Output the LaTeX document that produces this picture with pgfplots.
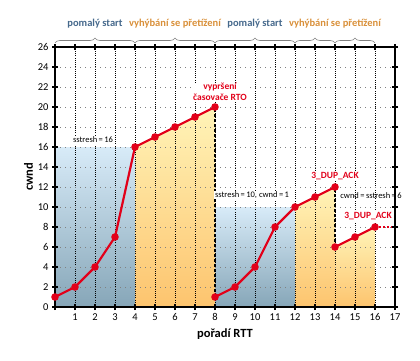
\documentclass[border=0pt]{standalone}
\usepackage{fontspec}
\setmainfont{Carlito}
\usepackage{pgfplots}
\pgfplotsset{compat=1.18}
\usetikzlibrary{decorations.pathreplacing}
\definecolor{cred}{HTML}{E2001A}
\definecolor{btop}{HTML}{D8EBF8}
\definecolor{bbot}{HTML}{86A6B8}
\definecolor{ytop}{HTML}{FFF4B8}
\definecolor{ybot}{HTML}{FDC46E}
\definecolor{cblue}{HTML}{46698C}
\definecolor{corange}{HTML}{D9903A}
\tikzset{lbl/.style={fill=white, inner sep=0.6pt}}
\begin{document}
\begin{tikzpicture}
\begin{axis}[name=ax, set layers, scale only axis, width=340pt, height=260pt,
  xmin=0, xmax=17, ymin=0, ymax=26,
  xtick={0,...,17}, xticklabels={,1,2,3,4,5,6,7,8,9,10,11,12,13,14,15,16,17},
  ytick={0,2,...,26},
  clip=false,
  axis line style={line width=1.6pt, black},
  tick align=center, major tick length=6pt,
  tick style={line width=1.2pt, black},
  grid=major,
  x grid style={black, line width=0.5pt, dash pattern=on 0.8pt off 1.4pt},
  y grid style={gray, line width=0.9pt, dash pattern=on 1pt off 4pt},
  /pgf/number format/assume math mode=true,
  tick label style={font=\fontsize{10.5}{12}\selectfont},
  xlabel={\textbf{pořadí RTT}}, ylabel={\textbf{cwnd}},
  label style={font=\fontsize{12.5}{14}\selectfont},
  xlabel style={yshift=-1pt},
  ylabel style={yshift=-2pt},
]
% shaded areas
\addplot[on layer=axis background, draw=none, top color=btop, bottom color=bbot] coordinates {(0,16) (4,16)} \closedcycle;
\addplot[on layer=axis background, draw=none, top color=ytop, bottom color=ybot] coordinates {(4,16) (5,17) (6,18) (7,19) (8,20)} \closedcycle;
\addplot[on layer=axis background, draw=none, top color=btop, bottom color=bbot] coordinates {(8,10) (12,10)} \closedcycle;
\addplot[on layer=axis background, draw=none, top color=ytop, bottom color=ybot] coordinates {(12,10) (13,11) (14,12)} \closedcycle;
\addplot[on layer=axis background, draw=none, top color=ytop, bottom color=ybot] coordinates {(14,6) (15,7) (16,8)} \closedcycle;
% white box behind label near right edge (background layer so axis line stays visible)
\addplot[on layer=axis background, draw=none, fill=white] coordinates {(14.3,10.6) (17,10.6) (17,11.6) (14.3,11.6)} -- cycle;
% dashed drops
\addplot[black, line width=1.6pt, dash pattern=on 3pt off 2pt] coordinates {(8,1) (8,20)};
\addplot[black, line width=1.6pt, dash pattern=on 3pt off 2pt] coordinates {(14,6) (14,12)};
% cwnd
\addplot[cred, line width=2.2pt, mark=*, mark size=2.6pt] coordinates {(0,1) (1,2) (2,4) (3,7) (4,16) (5,17) (6,18) (7,19) (8,20)};
\addplot[cred, line width=2.2pt, mark=*, mark size=2.6pt] coordinates {(8,1) (9,2) (10,4) (11,8) (12,10) (13,11) (14,12)};
\addplot[cred, line width=2.2pt, mark=*, mark size=2.6pt] coordinates {(14,6) (15,7) (16,8)};
\addplot[cred, line width=2.2pt, dash pattern=on 2pt off 2pt] coordinates {(16,8) (16.85,8)};
% annotations
\node[lbl, text=cred, font=\bfseries\fontsize{9.5}{10.5}\selectfont, align=center] at (axis cs:8.25,21.5) {vypršení\\časovače RTO};
\node[lbl, font=\fontsize{8.5}{9}\selectfont] at (axis cs:1.9,16.7) {sstresh\,=\,16};
\node[lbl, font=\fontsize{8.5}{9}\selectfont] at (axis cs:9.85,11.2) {sstresh\,=\,10, cwnd\,=\,1};
\node[lbl, text=cred, font=\bfseries\fontsize{9.5}{10}\selectfont] at (axis cs:14.0,13.05) {3\_DUP\_ACK};
\node[font=\fontsize{8.5}{9}\selectfont, inner sep=0.6pt] at (axis cs:15.8,11.1) {cwnd\,=\,sstresh\,=\,6};
\node[lbl, text=cred, font=\bfseries\fontsize{9.5}{10}\selectfont] at (axis cs:15.65,9.05) {3\_DUP\_ACK};
% braces
\draw[gray, line width=0.6pt, decorate, decoration={brace, amplitude=5pt}] (axis cs:0,26.4) -- (axis cs:4,26.4);
\draw[gray, line width=0.6pt, decorate, decoration={brace, amplitude=5pt}] (axis cs:4,26.4) -- (axis cs:8,26.4);
\draw[gray, line width=0.6pt, decorate, decoration={brace, amplitude=5pt}] (axis cs:8,26.4) -- (axis cs:12,26.4);
\draw[gray, line width=0.6pt, decorate, decoration={brace, amplitude=5pt}] (axis cs:12,26.4) -- (axis cs:14,26.4);
\draw[gray, line width=0.6pt, decorate, decoration={brace, amplitude=5pt}] (axis cs:14,26.4) -- (axis cs:16,26.4);
\node[text=cblue, font=\bfseries\fontsize{10.5}{12}\selectfont] at (axis cs:2,28.3) {pomalý start};
\node[text=corange, font=\bfseries\fontsize{10.5}{12}\selectfont] at (axis cs:6,28.3) {vyhýbání se přetížení};
\node[text=cblue, font=\bfseries\fontsize{10.5}{12}\selectfont] at (axis cs:10,28.3) {pomalý start};
\node[text=corange, font=\bfseries\fontsize{10.5}{12}\selectfont] at (axis cs:14,28.3) {vyhýbání se přetížení};
\end{axis}
\path[use as bounding box] ([xshift=-55pt,yshift=-53pt]ax.south west) rectangle ([xshift=25pt,yshift=47pt]ax.north east);
\end{tikzpicture}
\end{document}
